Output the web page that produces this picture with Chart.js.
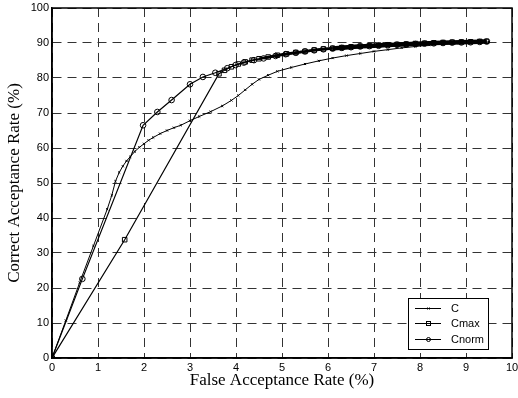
<!DOCTYPE html>
<html>
<head>
<meta charset="utf-8">
<script src="https://cdn.jsdelivr.net/npm/chart.js@4"></script>
<style>
html,body{margin:0;padding:0;background:#fff;}
#wrap{width:518px;height:398px;position:relative;}
</style>
</head>
<body>
<div id="wrap"><canvas id="c" width="518" height="398"></canvas></div>
<script>
// ---- data ----
const xTicks = [0,1,2,3,4,5,6,7,8,9,10];
const yTicks = [0,10,20,30,40,50,60,70,80,90,100];
const seriesNames = ['C','Cmax','Cnorm'];

const C_x = [0,0.3,0.6,0.9,1.2,1.3,1.38,1.46,1.54,1.62,1.7,1.8,1.9,2.0,2.1,2.2,2.35,2.5,2.65,2.8,3.0,3.2,3.45,3.7,3.9,4.05,4.2,4.35,4.5,4.7,4.9,5.2,5.5,5.8,6.1,6.4,6.7,7.0,7.3,7.6,7.9,8.2,8.5,8.8,9.1,9.5];
const C_y = [0,10.7,21.5,32,42.5,46.5,50.5,53,54.8,56.3,57.5,59,60.2,61.2,62.2,63,64.1,65,65.8,66.5,67.8,69,70.4,72,73.6,75,76.6,78.2,79.6,80.8,81.9,83,84,84.9,85.7,86.4,87.0,87.6,88.1,88.6,89.0,89.4,89.7,89.9,90.1,90.3];

const Cmax_x = [0,1.58,3.63,3.75,3.9,4.05,4.2,4.35,4.5,4.7,4.9,5.1,5.3,5.5,5.7,5.9,6.1,6.3,6.5,6.7,6.9,7.1,7.3,7.5,7.7,7.9,8.1,8.3,8.5,8.7,8.9,9.1,9.3,9.45];
const Cmax_y = [0,33.8,81.2,82.2,83.2,84.0,84.6,85.1,85.5,86.0,86.5,86.9,87.3,87.6,88.0,88.3,88.5,88.7,88.9,89.1,89.25,89.4,89.5,89.6,89.7,89.85,89.95,90.05,90.15,90.25,90.3,90.35,90.45,90.5];

const Cnorm_x = [0,0.66,1.98,2.29,2.60,3.0,3.28,3.55,3.81,3.99,4.17,4.39,4.6,4.86,5.08,5.3,5.5,5.7,5.9,6.1,6.3,6.5,6.7,6.9,7.1,7.3,7.5,7.7,7.9,8.1,8.3,8.5,8.7,8.9,9.1,9.3,9.45];
const Cnorm_y = [0,22.6,66.5,70.3,73.7,78.2,80.3,81.5,82.8,83.7,84.4,85.1,85.6,86.3,86.8,87.2,87.6,87.9,88.2,88.4,88.6,88.8,89.0,89.1,89.2,89.35,89.5,89.6,89.7,89.8,89.9,90.0,90.1,90.15,90.2,90.3,90.4];

const xTitle = 'False Acceptance Rate (%)';
const yTitle = 'Correct Acceptance Rate (%)';

function pts(xs, ys){ return xs.map((x,i)=>({x:x, y:ys[i]})); }

const SANS = '"Liberation Sans", Arial, sans-serif';
const SERIF = '"Liberation Serif", "Times New Roman", serif';

const styles = [
  {pointStyle:'crossRot', radius:1.5},
  {pointStyle:'rect', radius:3.2},
  {pointStyle:'circle', radius:2.8}
];

const datasets = [
  {label:seriesNames[0], data:pts(C_x,C_y)},
  {label:seriesNames[1], data:pts(Cmax_x,Cmax_y)},
  {label:seriesNames[2], data:pts(Cnorm_x,Cnorm_y)}
].map((d,i)=>Object.assign(d,{
  showLine:true,
  borderColor:'#000',
  borderWidth:1,
  backgroundColor:'rgba(0,0,0,0)',
  pointBorderColor:'#000',
  pointBackgroundColor:'rgba(0,0,0,0)',
  pointBorderWidth:1,
  pointStyle:styles[i].pointStyle,
  pointRadius:styles[i].radius,
  pointHoverRadius:styles[i].radius,
  tension:0,
  segment: i>0 ? {borderWidth: ctx => ctx.p0.parsed.x >= 6.0 ? 4 : (ctx.p0.parsed.x >= 4.5 ? 2.5 : 1.2)} : {}
}));

function marker(ctx, style, x, y){
  ctx.beginPath();
  if(style==='circle'){ ctx.arc(x,y,2,0,Math.PI*2); ctx.stroke(); }
  else if(style==='rect'){ ctx.strokeRect(x-2,y-2,4,4); }
  else { ctx.moveTo(x-1,y-1); ctx.lineTo(x+1,y+1); ctx.moveTo(x+1,y-1); ctx.lineTo(x-1,y+1); ctx.stroke(); }
}

const boxPlugin = {
  id:'boxPlugin',
  afterDraw(chart){
    const {ctx, chartArea:a} = chart;
    ctx.save();
    ctx.strokeStyle = '#000';
    ctx.lineWidth = 1.5;
    ctx.strokeRect(a.left, a.top, a.right-a.left, a.bottom-a.top);
    // legend box (inside plot, lower right)
    const w = 80, h = 51;
    const bx = a.right - 24 - w, by = a.bottom - 9 - h;
    ctx.fillStyle = '#fff';
    ctx.fillRect(bx, by, w, h);
    ctx.lineWidth = 1;
    ctx.strokeRect(bx+0.5, by+0.5, w, h);
    ctx.font = '11px ' + SANS;
    ctx.textBaseline = 'middle';
    ctx.textAlign = 'left';
    chart.data.datasets.forEach((ds,i)=>{
      const yy = Math.round(by + 10 + i*15.3) + 0.5;
      ctx.strokeStyle = '#000';
      ctx.lineWidth = 1;
      ctx.beginPath();
      ctx.moveTo(bx+7, yy); ctx.lineTo(bx+33, yy);
      ctx.stroke();
      marker(ctx, ds.pointStyle, bx+20.5, yy);
      ctx.fillStyle = '#000';
      ctx.fillText(ds.label, bx+43, yy+0.5);
    });
    ctx.restore();
  }
};

new Chart(document.getElementById('c'), {
  type:'scatter',
  data:{datasets},
  options:{
    responsive:false,
    animation:false,
    events:[],
    layout:{padding:{left:0,right:6,top:8,bottom:0}},
    plugins:{legend:{display:false}, tooltip:{enabled:false}},
    scales:{
      x:{
        type:'linear', min:0, max:10,
        afterBuildTicks(s){ s.ticks = xTicks.map(v=>({value:v})); },
        ticks:{color:'#000', font:{family:SANS,size:11}, padding:3, maxRotation:0, autoSkip:false,
               callback:v=>String(v)},
        grid:{color:'#333', lineWidth:1, drawTicks:false, tickLength:0},
        border:{display:true, color:'#000', width:1.5, dash:[9,6]},
        title:{display:true, text:xTitle, color:'#000', font:{family:SERIF,size:17}, padding:{top:0,bottom:7}},
        afterFit(s){ s.height = 40; s.paddingLeft = 0; s.paddingRight = 0; }
      },
      y:{
        type:'linear', min:0, max:100,
        afterBuildTicks(s){ s.ticks = yTicks.map(v=>({value:v})); },
        ticks:{color:'#000', font:{family:SANS,size:11}, padding:3, autoSkip:false,
               callback:v=>String(v)},
        grid:{color:'#333', lineWidth:1, drawTicks:false, tickLength:0},
        border:{display:true, color:'#000', width:1.5, dash:[9,6]},
        title:{display:true, text:yTitle, color:'#000', font:{family:SERIF,size:17}, padding:{top:4,bottom:0}},
        afterFit(s){ s.width = 52; s.paddingTop = 0; s.paddingBottom = 0; }
      }
    }
  },
  plugins:[boxPlugin]
});
</script>
</body>
</html>
